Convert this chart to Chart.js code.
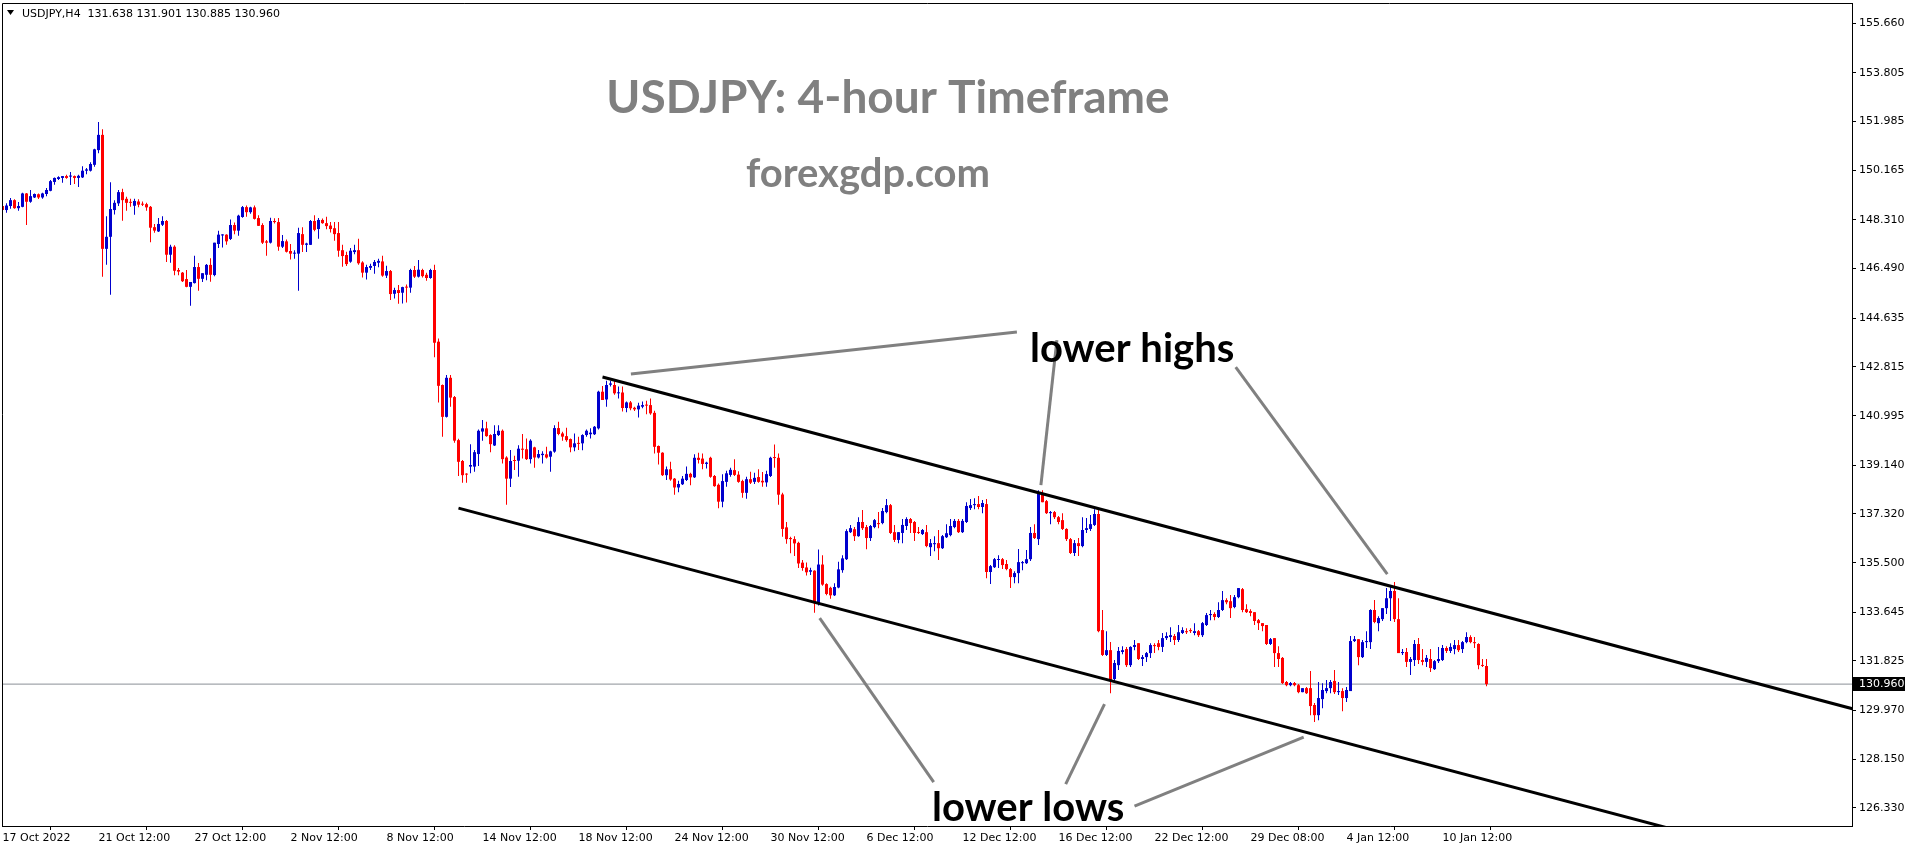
<!DOCTYPE html>
<html>
<head>
<meta charset="utf-8">
<title>USDJPY H4</title>
<script src="https://cdn.jsdelivr.net/npm/chart.js@4.4.1/dist/chart.umd.min.js"></script>
<style>
  html, body { margin: 0; padding: 0; background: #fff; }
  #wrap { width: 1916px; height: 850px; }
  canvas { display: block; }
</style>
</head>
<body>
<div id="wrap"><canvas id="chart" width="1916" height="850"></canvas></div>
<script>
// USDJPY H4 candles, 17 Oct 2022 -> 11 Jan 2023
const openP = [
  148.83,148.68,148.83,149.05,148.75,148.80,149.30,148.99,149.15,149.27,149.15,149.28,
  149.40,149.73,149.84,149.88,149.95,149.93,149.95,149.88,149.90,150.15,150.15,150.37,
  150.92,151.49,147.23,147.68,148.68,148.93,149.35,149.10,148.98,148.84,149.00,148.90,
  148.90,148.80,148.04,147.88,148.13,148.27,147.01,147.31,146.44,146.34,146.10,145.81,
  145.95,146.55,146.11,146.26,146.63,146.25,147.41,147.73,147.76,147.60,148.12,147.91,
  148.42,148.79,148.60,148.78,148.38,148.12,147.51,147.46,148.27,148.23,147.31,147.51,
  147.15,147.05,147.05,147.78,147.38,147.38,148.27,147.97,148.31,148.19,148.10,148.00,
  147.82,147.18,147.00,146.75,147.11,147.18,146.72,146.34,146.52,146.59,146.71,146.76,
  146.23,146.40,145.55,145.69,145.59,145.80,145.78,146.44,146.19,146.44,146.26,146.14,
  146.44,143.76,142.14,140.95,142.41,141.69,140.08,139.30,138.82,139.09,139.09,139.56,
  140.40,140.52,140.27,139.88,140.27,140.43,139.43,138.64,139.32,139.31,139.76,139.74,
  139.37,139.81,139.43,139.52,139.55,139.46,139.65,140.53,140.33,140.23,140.12,139.81,
  139.96,139.96,140.27,140.30,140.30,140.52,141.89,141.60,142.15,142.14,141.83,141.86,
  141.28,141.49,141.29,141.23,141.33,141.39,141.39,141.10,139.86,139.61,138.77,138.99,
  138.64,138.31,138.43,138.59,138.82,138.69,139.42,139.39,139.19,139.42,138.74,138.41,
  137.78,138.52,138.78,138.96,138.79,138.55,138.11,138.62,138.52,138.70,138.56,138.50,
  138.74,139.44,139.42,138.05,136.82,136.42,136.38,136.24,135.50,135.32,135.16,135.20,
  133.98,135.43,134.70,134.56,134.28,134.57,135.22,135.63,136.64,136.75,136.49,137.02,
  136.83,136.42,136.83,136.98,136.98,137.39,137.65,136.64,136.35,136.61,136.87,137.13,
  137.02,136.64,136.57,136.64,136.08,136.19,136.23,136.04,136.45,136.53,136.83,137.06,
  136.64,137.02,137.54,137.65,137.69,137.58,137.69,135.15,135.33,135.60,135.63,135.45,
  135.26,134.96,135.11,135.48,135.48,135.63,136.61,136.38,138.10,137.80,137.35,137.39,
  137.20,137.09,136.76,136.38,135.86,136.23,136.12,136.72,136.76,136.91,137.32,132.98,
  132.05,132.23,131.15,131.67,132.16,132.27,131.67,132.35,132.49,131.90,131.97,132.12,
  132.42,132.49,132.35,132.68,132.72,132.76,132.61,132.87,132.94,132.98,132.87,132.94,
  132.79,133.17,133.54,133.58,133.47,133.73,134.10,134.06,133.84,134.21,134.51,133.76,
  133.69,133.65,133.35,133.24,133.17,132.46,132.68,132.12,131.94,131.04,130.92,131.00,
  130.92,130.66,130.81,130.81,130.18,129.80,130.40,130.70,130.81,131.08,130.66,130.70,
  130.44,130.70,132.57,132.64,131.97,132.53,132.53,133.73,133.24,133.39,133.80,134.17,
  134.44,133.39,132.12,132.16,131.79,131.86,132.46,131.86,131.79,131.90,131.52,131.82,
  131.86,132.31,132.20,132.27,132.42,132.27,132.53,132.72,132.53,132.46,131.67,131.638
];
const highP = [
  148.90,148.93,149.13,149.08,148.98,149.33,149.32,149.43,149.30,149.30,149.33,149.50,
  149.80,149.90,149.94,149.95,150.00,150.10,149.97,150.00,150.32,150.25,150.47,150.97,
  151.97,151.70,148.45,149.72,149.05,149.43,149.48,149.18,149.10,149.10,149.08,149.00,
  148.95,148.83,148.16,148.38,148.45,148.31,147.38,147.36,146.51,146.36,146.44,145.99,
  146.97,146.70,146.32,146.66,146.88,147.46,147.91,147.78,147.78,148.33,148.21,148.50,
  148.83,148.85,148.80,148.85,148.49,148.19,147.56,148.39,148.37,148.38,147.75,147.58,
  147.41,147.18,148.02,148.04,147.46,148.31,148.49,148.38,148.36,148.43,148.23,148.23,
  148.23,147.38,147.12,147.26,147.38,147.61,146.77,146.64,146.67,146.81,146.86,146.97,
  146.60,146.44,145.78,145.88,145.81,145.90,146.49,146.59,146.81,146.49,146.34,146.49,
  146.64,143.88,142.16,142.51,142.51,141.73,140.13,139.34,138.84,139.93,139.71,140.48,
  140.83,140.77,140.30,140.64,140.64,140.48,139.48,139.71,139.50,139.89,140.31,140.14,
  140.11,139.83,139.71,139.66,139.83,139.68,140.64,140.77,140.39,140.54,140.14,140.33,
  140.21,140.30,140.48,140.52,140.61,141.93,142.10,142.30,142.30,142.30,142.08,142.08,
  141.52,141.54,141.33,141.48,141.52,141.55,141.64,141.18,139.88,139.63,139.09,139.27,
  138.66,138.56,138.74,139.09,138.86,139.55,139.61,139.58,139.27,139.46,138.78,138.46,
  138.80,138.94,139.05,139.37,138.92,138.60,138.71,138.90,138.86,138.99,138.89,138.94,
  139.46,139.92,139.58,138.11,137.02,136.47,136.49,136.28,135.60,135.51,135.31,135.22,
  135.99,135.78,134.73,134.60,134.73,135.53,135.78,136.75,136.91,136.83,137.20,137.47,
  136.91,136.91,137.13,137.39,137.54,137.88,137.69,136.91,136.64,137.13,137.20,137.17,
  137.06,136.83,136.76,136.91,136.38,136.49,136.72,136.53,136.94,137.13,137.13,137.13,
  137.13,137.76,137.88,137.91,137.99,137.84,137.88,135.41,135.67,135.78,135.67,135.60,
  135.30,135.18,136.01,135.56,135.97,136.83,136.94,138.21,138.21,137.84,137.43,137.43,
  137.24,137.35,136.79,136.42,136.35,136.42,137.20,137.17,137.28,137.50,137.50,133.73,
  132.94,132.53,131.86,132.35,132.38,132.35,132.38,132.61,132.49,132.05,132.16,132.49,
  132.49,132.61,132.87,132.90,133.09,132.83,133.17,133.09,133.05,133.05,133.24,132.98,
  133.28,133.62,133.73,133.65,134.02,134.44,134.17,134.29,134.29,134.55,134.55,133.95,
  133.76,133.65,133.39,133.24,133.17,132.68,132.68,132.38,131.97,131.08,131.04,131.04,
  130.96,130.81,130.85,131.45,130.25,131.04,130.99,131.11,131.11,131.49,131.04,130.81,
  130.85,132.76,132.76,132.64,132.61,132.94,133.76,134.10,133.50,133.80,134.55,134.59,
  134.78,134.17,132.27,132.31,131.97,132.61,132.68,132.27,132.05,132.27,131.86,132.35,
  132.42,132.38,132.49,132.61,132.61,132.57,132.90,132.79,132.72,132.49,131.90,131.901
];
const lowP = [
  148.58,148.58,148.73,148.73,148.65,148.78,148.12,148.95,149.13,149.09,149.10,149.20,
  149.38,149.63,149.80,149.70,149.85,149.62,149.65,149.54,149.88,150.02,150.12,150.30,
  150.80,146.19,146.64,145.51,148.51,148.83,148.28,148.65,148.80,148.50,148.78,148.83,
  148.65,147.48,147.83,147.86,148.08,146.74,146.71,146.24,146.24,145.99,145.79,145.10,
  145.93,145.66,145.99,146.06,146.00,146.21,147.26,147.28,147.38,147.56,147.78,147.72,
  148.39,148.43,148.54,148.33,148.08,147.41,146.97,147.43,148.18,147.16,147.26,147.09,
  146.83,146.86,145.66,147.11,147.11,147.37,147.89,147.61,148.17,147.96,147.84,147.53,
  146.93,146.56,146.59,146.71,147.03,146.64,146.16,146.08,146.44,146.30,146.54,146.19,
  146.14,145.32,145.37,145.18,145.19,145.22,145.59,146.14,146.16,146.16,146.04,146.11,
  143.18,141.49,140.21,140.93,141.33,139.98,138.74,138.49,138.49,138.84,138.90,139.11,
  140.06,140.21,139.63,139.86,140.23,139.21,137.66,138.33,138.96,138.71,139.39,139.34,
  139.21,139.05,139.39,139.21,139.39,138.90,139.61,140.26,140.06,140.02,139.63,139.66,
  139.71,139.70,140.21,140.14,140.27,140.48,141.58,141.33,142.08,141.78,141.64,141.15,
  141.12,141.20,141.17,140.93,141.27,141.05,141.03,139.58,139.17,138.74,138.59,138.56,
  138.04,138.13,138.40,138.55,138.39,138.66,139.21,138.99,139.02,138.67,138.34,137.53,
  137.57,138.34,138.71,138.74,138.49,137.93,137.89,138.44,138.44,138.49,138.34,138.34,
  138.70,139.05,137.66,136.47,136.21,135.85,135.75,135.30,135.20,135.02,135.04,133.63,
  133.90,134.64,134.28,134.15,134.25,134.54,135.12,135.60,136.61,136.31,136.47,136.72,
  136.00,136.31,136.79,136.79,136.94,137.35,136.57,136.27,136.23,136.23,136.72,136.61,
  136.31,136.57,136.53,136.08,135.75,135.93,135.60,136.01,136.42,136.49,136.79,136.61,
  136.61,136.98,137.47,137.50,137.50,137.35,134.92,134.70,135.30,135.30,135.26,135.22,
  134.55,134.73,134.73,135.22,135.45,135.56,136.38,136.16,137.76,137.32,136.94,137.13,
  136.94,136.72,136.31,135.82,135.75,135.75,136.08,136.61,136.68,136.87,132.90,132.01,
  132.01,130.62,131.04,131.49,132.08,131.60,131.60,132.23,131.86,131.64,131.79,131.94,
  132.12,132.23,132.16,132.61,132.53,132.42,132.53,132.83,132.83,132.87,132.79,132.72,
  132.72,133.13,133.35,133.35,133.43,133.69,133.95,133.43,133.80,134.17,133.65,133.62,
  133.50,133.17,132.98,132.94,132.42,132.42,131.60,131.60,130.96,130.88,130.88,130.88,
  130.62,130.66,130.59,129.80,129.54,129.61,130.06,130.62,130.62,130.59,130.55,129.95,
  130.29,130.70,132.53,131.67,131.94,132.31,132.27,133.24,132.94,133.32,133.58,133.32,
  133.28,132.12,132.05,131.60,131.30,131.64,131.71,131.67,131.60,131.41,131.49,131.75,
  131.82,132.12,132.12,132.08,132.16,132.12,132.49,132.49,132.31,131.52,131.60,130.885
];
const closeP = [
  148.68,148.85,149.05,148.75,148.83,149.30,148.99,149.20,149.28,149.15,149.30,149.43,
  149.76,149.88,149.91,149.95,149.88,149.97,149.88,149.96,150.15,150.20,150.40,150.95,
  151.49,147.23,147.68,148.72,148.95,149.35,149.05,148.95,148.95,149.02,148.88,148.88,
  148.78,148.02,147.91,148.16,148.27,147.01,147.31,146.41,146.38,146.02,145.81,145.99,
  146.55,146.11,146.32,146.63,146.26,147.46,147.76,147.77,147.51,148.12,147.91,148.47,
  148.79,148.60,148.78,148.35,148.09,147.46,147.46,148.27,148.23,147.31,147.52,147.12,
  147.05,147.08,147.82,147.38,147.43,148.27,147.94,148.31,148.19,148.08,147.97,147.78,
  147.16,146.96,146.66,147.16,147.18,146.69,146.34,146.55,146.59,146.74,146.78,146.23,
  146.40,145.54,145.69,145.58,145.80,145.78,146.44,146.19,146.45,146.21,146.14,146.44,
  143.72,142.11,140.95,142.41,141.67,140.06,139.27,138.77,138.79,139.15,139.63,140.43,
  140.52,140.23,139.93,140.31,140.43,139.37,138.64,139.30,139.30,139.76,139.72,139.37,
  140.06,139.43,139.56,139.57,139.43,139.66,140.53,140.31,140.21,140.08,139.81,139.96,
  139.94,140.27,140.43,140.36,140.58,141.89,141.58,142.14,142.20,141.83,141.86,141.28,
  141.49,141.27,141.23,141.37,141.39,141.37,141.08,139.83,139.61,138.77,138.99,138.61,
  138.31,138.44,138.64,138.82,138.69,139.42,139.34,139.19,139.24,138.71,138.36,137.78,
  138.55,138.84,138.97,138.78,138.52,138.11,138.62,138.49,138.67,138.52,138.50,138.81,
  139.42,139.41,138.04,136.76,136.38,136.38,136.22,135.47,135.30,135.14,135.22,133.98,
  135.43,134.68,134.33,134.28,134.59,135.25,135.66,136.68,136.79,136.49,137.02,136.79,
  136.42,136.87,137.09,136.94,137.43,137.65,136.61,136.35,136.64,136.91,137.13,136.98,
  136.61,136.61,136.72,136.12,136.23,136.23,136.04,136.49,136.60,136.87,137.06,136.64,
  137.06,137.62,137.65,137.69,137.58,137.73,135.15,135.37,135.63,135.63,135.41,135.26,
  134.96,135.11,135.52,135.52,135.63,136.61,136.42,138.10,137.76,137.35,137.39,137.20,
  137.02,136.76,136.38,135.86,136.23,136.12,136.72,136.79,136.94,137.32,132.94,132.05,
  132.23,131.11,131.75,132.20,132.23,131.67,132.35,132.42,131.90,131.97,132.12,132.42,
  132.38,132.35,132.68,132.76,132.79,132.61,132.90,132.98,132.90,132.94,132.94,132.79,
  133.24,133.54,133.58,133.47,133.73,134.10,134.02,133.80,134.21,134.55,133.73,133.65,
  133.62,133.32,133.24,133.13,132.46,132.64,132.12,131.90,131.00,130.92,131.00,130.92,
  130.66,130.81,130.62,130.14,129.80,130.44,130.74,130.81,131.04,130.66,130.70,130.44,
  130.74,132.57,132.64,131.97,132.53,132.57,133.73,133.28,133.43,133.80,134.17,134.44,
  133.39,132.12,132.16,131.79,131.90,132.46,131.86,131.79,131.94,131.56,131.82,131.90,
  132.31,132.20,132.35,132.42,132.23,132.53,132.72,132.53,132.49,131.67,131.64,130.960
];

// axis ticks
const xTickPos = [0, 24, 48, 72, 96, 120, 144, 168, 192, 216, 240, 264, 288, 312, 336, 360];
const xTickLabels = ["17 Oct 2022", "21 Oct 12:00", "27 Oct 12:00", "2 Nov 12:00", "8 Nov 12:00",
  "14 Nov 12:00", "18 Nov 12:00", "24 Nov 12:00", "30 Nov 12:00", "6 Dec 12:00", "12 Dec 12:00",
  "16 Dec 12:00", "22 Dec 12:00", "29 Dec 08:00", "4 Jan 12:00", "10 Jan 12:00"];
const yTickVals = [155.660, 153.805, 151.985, 150.165, 148.310, 146.490, 144.635, 142.815, 140.995,
  139.140, 137.320, 135.500, 133.645, 131.825, 129.970, 128.150, 126.330];
const lastPrice = 130.960;

// drawn channel + annotation pointers (bar index, price)
const upperChannel = [{ x: 150, y: 142.44 }, { x: 470, y: 129.74 }];
const lowerChannel = [{ x: 114, y: 137.54 }, { x: 470, y: 123.46 }];
const highPointers = [
  [{ x: 157.1, y: 142.55 }, { x: 253.6, y: 144.12 }],
  [{ x: 263.6, y: 143.82 }, { x: 259.6, y: 138.40 }],
  [{ x: 308.3, y: 142.81 }, { x: 346.2, y: 135.07 }]
];
const lowPointers = [
  [{ x: 204.3, y: 133.43 }, { x: 232.8, y: 127.30 }],
  [{ x: 275.5, y: 130.21 }, { x: 265.8, y: 127.22 }],
  [{ x: 325.3, y: 128.98 }, { x: 283.0, y: 126.40 }]
];

const BULL = "#0000cd";
const BEAR = "#ff0000";
const idx = closeP.map((c, i) => i);
const candleColor = idx.map((i) => (closeP[i] >= openP[i] ? BULL : BEAR));

function lineSet(pts, color, width, order) {
  return {
    type: "line",
    data: pts,
    borderColor: color,
    borderWidth: width,
    pointRadius: 0,
    fill: false,
    tension: 0,
    order: order,
  };
}

const textPlugin = {
  id: "mtText",
  afterDatasetsDraw(chart) {
    const ctx = chart.ctx;
    ctx.save();
    // title
    ctx.fillStyle = "#808080";
    ctx.textAlign = "center";
    ctx.textBaseline = "alphabetic";
    ctx.font = "bold 46px Lato";
    ctx.fillText("USDJPY: 4-hour Timeframe", 888, 113);
    ctx.font = "bold 40px Lato";
    ctx.fillText("forexgdp.com", 868, 187);
    // annotations
    ctx.fillStyle = "#000";
    ctx.textAlign = "left";
    ctx.font = "bold 40px Lato";
    ctx.fillText("lower highs", 1030, 362);
    ctx.fillText("lower lows", 932, 821);
    // header
    ctx.beginPath();
    ctx.moveTo(7, 10);
    ctx.lineTo(14, 10);
    ctx.lineTo(10.5, 15);
    ctx.closePath();
    ctx.fill();
    ctx.font = "11px 'DejaVu Sans'";
    ctx.fillText("USDJPY,H4  131.638 131.901 130.885 130.960", 22, 17);
    ctx.restore();
  },
  afterDraw(chart) {
    const ctx = chart.ctx;
    const a = chart.chartArea;
    ctx.save();
    ctx.strokeStyle = "#000";
    ctx.lineWidth = 1;
    ctx.beginPath();
    ctx.moveTo(a.left + 0.5, a.bottom);
    ctx.lineTo(a.left + 0.5, a.top + 0.5);
    ctx.lineTo(a.right, a.top + 0.5);
    ctx.stroke();
    // bid price box
    const y = Math.round(chart.scales.y.getPixelForValue(lastPrice));
    ctx.fillStyle = "#000";
    ctx.fillRect(a.right + 1, y - 7, 52, 14);
    ctx.fillStyle = "#fff";
    ctx.font = "11px 'DejaVu Sans'";
    ctx.textBaseline = "middle";
    ctx.fillText(lastPrice.toFixed(3), a.right + 7, y + 0.5);
    ctx.restore();
  },
};

const axisFont = { family: "DejaVu Sans", size: 11 };

new Chart(document.getElementById("chart"), {
  type: "bar",
  data: {
    datasets: [
      lineSet([{ x: -1, y: lastPrice }, { x: 470, y: lastPrice }], "#8a8f96", 1, 6),
      {
        label: "wicks",
        data: idx.map((i) => ({ x: i, y: [lowP[i], highP[i]] })),
        backgroundColor: candleColor,
        barThickness: 1,
        minBarLength: 1,
        grouped: false,
        inflateAmount: 0,
        order: 5,
      },
      {
        label: "bodies",
        data: idx.map((i) => ({ x: i, y: [openP[i], closeP[i]] })),
        backgroundColor: candleColor,
        barThickness: 3,
        minBarLength: 1,
        grouped: false,
        inflateAmount: 0,
        order: 4,
      },
      lineSet(upperChannel, "#000", 3, 1),
      lineSet(lowerChannel, "#000", 3, 1),
      ...highPointers.map((p) => lineSet(p, "#808080", 3, 2)),
      ...lowPointers.map((p) => lineSet(p, "#808080", 3, 2)),
    ],
  },
  options: {
    responsive: false,
    animation: false,
    events: [],
    layout: { padding: { left: 2, top: 3, right: 0, bottom: 0 } },
    plugins: { legend: { display: false }, tooltip: { enabled: false } },
    scales: {
      x: {
        type: "linear",
        min: -0.125,
        max: 462.375,
        offset: false,
        bounds: "data",
        afterBuildTicks: (s) => {
          s.ticks = xTickPos.map((v) => ({ value: v }));
        },
        afterFit: (s) => {
          s.height = 24;
          s.paddingLeft = 0;
          s.paddingRight = 0;
        },
        ticks: {
          autoSkip: false,
          maxRotation: 0,
          minRotation: 0,
          align: "start",
          padding: 2,
          color: "#000",
          font: axisFont,
          callback: (v, i) => xTickLabels[i],
        },
        grid: { drawOnChartArea: false, drawTicks: true, tickLength: 4, color: "#000" },
        border: { display: true, color: "#000", width: 1 },
      },
      y: {
        type: "linear",
        position: "right",
        min: 125.657,
        max: 156.419,
        bounds: "data",
        afterBuildTicks: (s) => {
          s.ticks = yTickVals.map((v) => ({ value: v }));
        },
        afterFit: (s) => {
          s.width = 64;
          s.paddingTop = 0;
          s.paddingBottom = 0;
        },
        ticks: {
          padding: 3,
          color: "#000",
          font: axisFont,
          callback: (v) => Number(v).toFixed(3),
        },
        grid: { drawOnChartArea: false, drawTicks: true, tickLength: 4, color: "#000" },
        border: { display: true, color: "#000", width: 1 },
      },
    },
  },
  plugins: [textPlugin],
});
</script>
</body>
</html>
